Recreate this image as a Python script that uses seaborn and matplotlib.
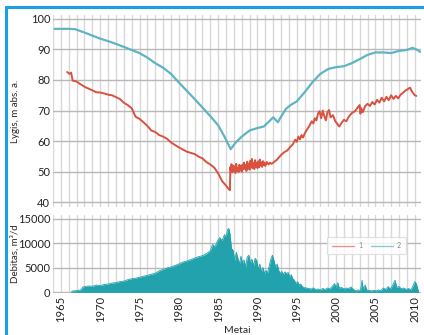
import matplotlib
matplotlib.use("Agg")
import matplotlib.pyplot as plt
from matplotlib.lines import Line2D
import seaborn as sns
import pandas as pd

# ---- data ----
blue_years = [1964.2, 1965, 1966, 1966.8, 1968, 1969, 1970, 1971, 1972, 1973, 1974, 1975,
              1976, 1977, 1978, 1979, 1980, 1981, 1982, 1983, 1984, 1985, 1985.8, 1986.6,
              1987.2, 1988, 1989, 1990, 1990.8, 1991.5, 1992, 1992.6, 1993, 1993.6, 1994.2,
              1995, 1996, 1997, 1998, 1999, 2000, 2001, 2002, 2003, 2004, 2005, 2006, 2007,
              2008, 2009, 2009.7, 2010.2, 2010.7]
blue_vals = [96.7, 96.7, 96.7, 96.6, 95.5, 94.5, 93.5, 92.7, 91.8, 90.8, 89.8, 88.8,
             87.3, 85.5, 84.0, 82.0, 79.2, 76.5, 73.8, 71.0, 68.2, 65.2, 61.5, 57.4,
             59.5, 61.5, 63.5, 64.3, 64.8, 66.5, 67.8, 66.2, 68.0, 70.5, 71.8,
             73.0, 76.0, 79.3, 82.0, 83.6, 84.2, 84.5, 85.5, 86.8, 88.2, 89.0, 89.0, 88.8,
             89.5, 89.8, 90.5, 90.0, 89.2]

red_years = [1965.8, 1966.1, 1966.3, 1966.5, 1967, 1967.5, 1968, 1968.5, 1969, 1969.5, 1970,
             1970.5, 1971, 1971.5, 1972, 1972.5, 1973, 1973.5, 1974, 1974.5, 1975, 1975.5,
             1976, 1976.5, 1977, 1977.5, 1978, 1978.5, 1979, 1979.5, 1980, 1980.5, 1981,
             1981.5, 1982, 1982.5, 1983, 1983.5, 1984, 1984.5, 1985, 1985.5, 1986, 1986.3,
             1986.5, 1986.55,
             1986.6, 1986.7, 1986.8, 1986.9, 1987.0, 1987.1, 1987.2, 1987.3, 1987.4, 1987.5,
             1987.6, 1987.7, 1987.8, 1987.9, 1988.0, 1988.1, 1988.2, 1988.3, 1988.4, 1988.5,
             1988.6, 1988.7, 1988.8, 1988.9, 1989.0, 1989.1, 1989.2, 1989.3, 1989.4, 1989.5,
             1989.6, 1989.7, 1989.8, 1989.9, 1990.0, 1990.1, 1990.2, 1990.3, 1990.4, 1990.5,
             1990.6, 1990.7, 1990.8, 1990.9, 1991.0, 1991.2, 1991.4, 1991.6, 1991.8, 1992.0,
             1992.5, 1993, 1993.4, 1993.8, 1994.2, 1994.5, 1994.8, 1995.0, 1995.2, 1995.4,
             1995.6, 1995.8, 1996.0, 1996.3, 1996.6, 1996.9, 1997.1, 1997.3, 1997.5, 1997.7,
             1997.9, 1998.1, 1998.3, 1998.5, 1998.7, 1998.9, 1999.1, 1999.3, 1999.6, 1999.9,
             2000.2, 2000.4, 2000.7, 2001.0, 2001.3, 2001.6, 2002.0, 2002.4, 2002.8, 2003.0,
             2003.1, 2003.2, 2003.4, 2003.7, 2004.0, 2004.3, 2004.6, 2004.9, 2005.2, 2005.5,
             2005.8, 2006.1, 2006.4, 2006.7, 2007.0, 2007.3, 2007.6, 2007.9, 2008.2, 2008.5,
             2008.8, 2009.1, 2009.4, 2009.7, 2010.0, 2010.2]
red_vals = [82.6, 82.0, 82.4, 79.8, 79.5, 78.6, 77.8, 77.2, 76.6, 76.0, 75.9,
            75.6, 75.2, 75.0, 74.4, 73.8, 72.6, 71.8, 70.8, 68.0, 67.3, 66.2,
            65.0, 63.5, 63.0, 62.0, 61.5, 60.8, 59.6, 58.8, 58.0, 57.3, 56.6,
            56.2, 55.8, 55.0, 54.4, 53.2, 52.4, 51.4, 49.5, 47.0, 45.5, 44.5,
            44.0, 51.5,
            50.5, 52.5, 49.8, 52.0, 50.2, 51.8, 49.6, 52.6, 50.4, 51.2,
            49.9, 52.3, 50.6, 51.9, 50.0, 52.4, 50.8, 53.0, 51.0, 52.2,
            50.3, 53.3, 51.1, 52.6, 50.7, 53.6, 51.4, 54.2, 51.2, 52.8,
            50.9, 53.8, 51.6, 52.9, 51.2, 53.4, 51.5, 54.0, 52.0, 53.1,
            51.6, 53.5, 52.2, 53.0, 51.9, 53.2, 52.4, 53.0, 52.6, 53.0,
            54.0, 55.5, 56.4, 57.0, 58.2, 59.0, 60.5, 59.8, 61.5, 60.6,
            62.0, 61.2, 62.5, 63.8, 65.0, 66.5, 65.8, 67.5, 66.8, 69.0,
            69.8, 67.5, 70.0, 68.2, 66.8, 69.5, 70.2, 67.8, 68.5, 66.5,
            65.5, 64.8, 66.0, 67.0, 66.5, 68.0, 69.2, 69.8, 71.2, 71.8,
            69.0, 70.8, 69.5, 71.5, 72.2, 71.5, 72.8, 72.0, 73.5, 72.6,
            74.2, 73.0, 74.5, 73.4, 75.0, 73.8, 74.8, 74.0, 75.2, 75.8,
            76.5, 77.0, 77.5, 76.0, 75.0, 74.8]

deb_years = [1966.3, 1966.5, 1967, 1967.5, 1967.8, 1968, 1968.5, 1969, 1969.5, 1970, 1970.5,
             1971, 1971.5, 1972, 1972.5, 1973, 1973.5, 1974, 1974.5, 1975, 1975.5, 1976,
             1976.5, 1977, 1977.5, 1978, 1978.5, 1979, 1979.5, 1980, 1980.5, 1981, 1981.5,
             1982, 1982.5, 1983, 1983.5, 1984, 1984.3, 1984.6, 1984.9, 1985.2, 1985.5,
             1985.8, 1986.0, 1986.2, 1986.35, 1986.5, 1986.7, 1986.9, 1987.1, 1987.3,
             1987.5, 1987.7, 1987.9, 1988.1, 1988.3, 1988.5, 1988.7, 1988.9, 1989.1,
             1989.3, 1989.5, 1989.7, 1989.9, 1990.1, 1990.3, 1990.5, 1990.7, 1990.9,
             1991.1, 1991.3, 1991.5, 1991.7, 1991.9, 1992.1, 1992.3, 1992.5, 1992.7,
             1992.9, 1993.1, 1993.3, 1993.5, 1993.7, 1993.9, 1994.1, 1994.3, 1994.5,
             1994.7, 1994.9, 1995.1, 1995.3, 1995.5, 1995.7, 1995.9, 1996.2, 1996.5,
             1996.8, 1997.1, 1997.4, 1997.7, 1998.0, 1998.3, 1998.6, 1998.9, 1999.2,
             1999.5, 1999.8, 2000.0, 2000.2, 2000.4, 2000.7, 2001.0, 2001.3, 2001.6,
             2001.9, 2002.2, 2002.5, 2002.8, 2003.1, 2003.3, 2003.45, 2003.7, 2003.9,
             2004.2, 2004.5, 2004.8, 2005.1, 2005.4, 2005.7, 2006.0, 2006.3, 2006.6,
             2006.9, 2007.2, 2007.5, 2007.7, 2008.0, 2008.3, 2008.6, 2008.9, 2009.2,
             2009.5, 2009.8, 2010.0, 2010.2, 2010.4, 2010.5]
deb_vals = [0, 300, 350, 500, 1100, 1200, 1300, 1250, 1500, 1400, 1600,
            1700, 1900, 2000, 2200, 2300, 2600, 2800, 2900, 3100, 3300, 3500,
            3700, 3900, 4400, 4700, 5000, 5200, 5500, 5800, 6200, 6400, 6700,
            7000, 7300, 7500, 7900, 8500, 9800, 9300, 10500, 11200, 10600,
            11800, 11400, 12800, 13100, 12000, 9000, 8600, 6500, 8200,
            7000, 5800, 7400, 6000, 6600, 5200, 7200, 7600, 6000,
            6800, 5400, 7000, 6500, 4800, 5800, 4200, 5100, 3800,
            4500, 4000, 5500, 6800, 7600, 6500, 5200, 5800, 4500,
            3900, 4300, 3600, 4200, 3800, 4100, 3200, 3600, 2800,
            2500, 1800, 2200, 1500, 1700, 1200, 1000, 900, 800,
            700, 900, 600, 700, 500, 800, 600, 900, 700,
            1200, 1800, 1000, 2000, 900, 1000, 700, 900, 800,
            1100, 600, 300, 500, 400, 2500, 600, 1500, 500,
            400, 300, 400, 300, 500, 400, 900, 600, 1200,
            700, 1500, 2500, 1000, 1200, 700, 900, 600, 800,
            500, 1400, 2200, 1800, 600, 0]

series_labels = ["1", "2"]
x_ticks = [1965, 1970, 1975, 1980, 1985, 1990, 1995, 2000, 2005, 2010]
top_yticks = [40, 50, 60, 70, 80, 90, 100]
bot_yticks = [0, 5000, 10000, 15000]

# ---- style ----
sns.set_style("white")
plt.rcParams['font.family'] = ['Lato', 'DejaVu Sans']

RED = "#d9523f"
BLUE = "#5fb4c4"
TEAL = "#22a2ad"
VGRID = "#d8d8d8"
HGRID = "#b8b8b8"

fig = plt.figure(figsize=(4.24, 3.35), dpi=100)
ax1 = fig.add_axes([0.125, 0.382, 0.868, 0.573])
ax2 = fig.add_axes([0.125, 0.125, 0.868, 0.233])

df_blue = pd.DataFrame({"year": blue_years, "val": blue_vals})
df_red = pd.DataFrame({"year": red_years, "val": red_vals})
df_deb = pd.DataFrame({"year": deb_years, "val": deb_vals})

sns.lineplot(data=df_red, x="year", y="val", ax=ax1, color=RED, lw=1.4,
             estimator=None, sort=False)
sns.lineplot(data=df_blue, x="year", y="val", ax=ax1, color=BLUE, lw=1.6,
             estimator=None, sort=False)

ax2.fill_between(df_deb["year"], 0, df_deb["val"], color=TEAL, lw=0)
sns.lineplot(data=df_deb, x="year", y="val", ax=ax2, color=TEAL, lw=0.6,
             estimator=None, sort=False)

xmin, xmax = 1964.2, 2010.8
for ax in (ax1, ax2):
    ax.set_xlim(xmin, xmax)
    ax.set_xticks(x_ticks)
    ax.set_xticks(range(1964, 2011), minor=True)
    ax.grid(True, which="both", axis="x", color=VGRID, lw=1.0)
    ax.grid(True, which="major", axis="y", color=HGRID, lw=1.0)
    ax.set_axisbelow(True)
    for s in ax.spines.values():
        s.set_visible(False)
    ax.tick_params(which="both", length=0, labelsize=8, pad=2, colors="#222222")

ax1.set_ylim(38.5, 101.2)
ax1.set_yticks(top_yticks)
ax1.set_xticklabels([])
ax1.set_xlabel("")
ax1.set_ylabel("Lygis, m abs. a.", fontsize=7)
ax1.yaxis.set_label_coords(-0.09, 0.5)

ax2.set_ylim(-150, 15800)
ax2.set_yticks(bot_yticks)
ax2.set_xticklabels([str(t) for t in x_ticks], rotation=90, fontsize=8)
ax2.set_xlabel("Metai", fontsize=7.5, labelpad=3)
ax2.set_ylabel("Debitas, m³/d", fontsize=7)
ax2.yaxis.set_label_coords(-0.09, 0.5)

handles = [Line2D([0], [0], color=RED, lw=1.0, alpha=0.6),
           Line2D([0], [0], color=BLUE, lw=1.0, alpha=0.7)]
leg = ax2.legend(handles, series_labels, loc="upper left", bbox_to_anchor=(0.735, 0.76),
                 ncol=2, fontsize=5, frameon=True, fancybox=True, handlelength=3.2,
                 columnspacing=1.2, handletextpad=0.6, borderpad=0.7, labelcolor="#888888")
leg.get_frame().set_edgecolor("#d8d8d8")
leg.get_frame().set_linewidth(0.8)

# blue frame
BORDER = "#1aa0e0"
fig.add_artist(Line2D([6 / 424, 1.0], [1 - 7 / 335, 1 - 7 / 335], color=BORDER, lw=2.2,
                      transform=fig.transFigure))
fig.add_artist(Line2D([6 / 424, 6 / 424], [1 - 7 / 335, 0], color=BORDER, lw=2.2,
                      transform=fig.transFigure))

fig.savefig("out.png", dpi=100)
